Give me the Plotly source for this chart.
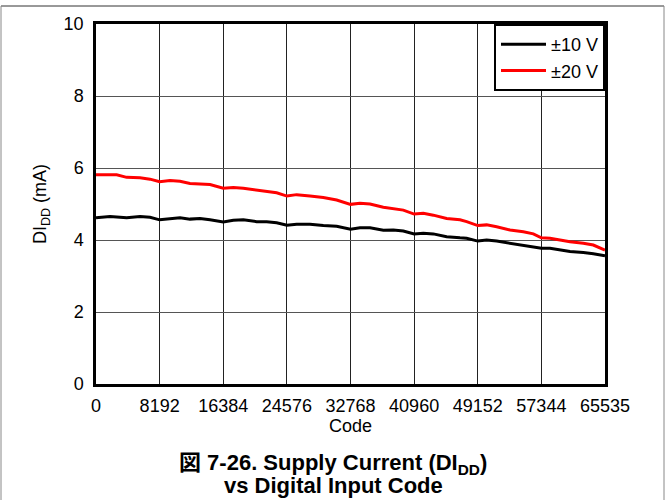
import plotly.graph_objects as go

# ---- data ----
codes = [0, 1802, 2661, 3948, 5665, 6952, 8192, 9527, 10815, 12102, 13390, 14678,
         16384, 17681, 18969, 20686, 21973, 23261, 24576, 25836, 27553, 29269, 30986,
         32768, 33990, 35278, 36994, 38282, 39570, 40960, 42144, 43431, 45148, 46865,
         47723, 49152, 50299, 51587, 53303, 55019, 56307, 57344, 58453, 59740, 61028,
         62745, 64033, 65535]

idd_10v = [4.62, 4.65, 4.64, 4.62, 4.65, 4.63, 4.56, 4.60, 4.62, 4.58, 4.60, 4.56,
           4.50, 4.55, 4.56, 4.51, 4.51, 4.48, 4.41, 4.44, 4.44, 4.40, 4.38,
           4.30, 4.34, 4.34, 4.27, 4.28, 4.25, 4.17, 4.19, 4.17, 4.09, 4.06,
           4.05, 3.97, 4.00, 3.97, 3.91, 3.86, 3.81, 3.77, 3.77, 3.72, 3.68,
           3.65, 3.62, 3.56]

idd_20v = [5.81, 5.80, 5.81, 5.74, 5.73, 5.69, 5.62, 5.65, 5.63, 5.57, 5.56, 5.54,
           5.44, 5.46, 5.44, 5.39, 5.35, 5.31, 5.22, 5.26, 5.22, 5.18, 5.11,
           4.99, 5.02, 5.00, 4.91, 4.88, 4.83, 4.72, 4.74, 4.69, 4.60, 4.56,
           4.51, 4.40, 4.42, 4.37, 4.28, 4.23, 4.17, 4.06, 4.05, 4.00, 3.95,
           3.91, 3.86, 3.72]

x_ticks = [0, 8192, 16384, 24576, 32768, 40960, 49152, 57344, 65535]
x_tick_labels = ["0", "8192", "16384", "24576", "32768", "40960", "49152", "57344", "65535"]
y_ticks = [0, 2, 4, 6, 8, 10]

series_names = ["±10 V", "±20 V"]
x_title = "Code"
y_title = "DI<sub>DD</sub> (mA)"
caption_line1 = "図 7-26. Supply Current (DI<sub>DD</sub>)"
caption_line2 = "vs Digital Input Code"

FONT = "Liberation Sans, Arial, Noto Sans CJK JP, sans-serif"

fig = go.Figure()
fig.add_trace(go.Scatter(x=codes, y=idd_10v, mode="lines", name=series_names[0],
                         line=dict(color="#000000", width=3)))
fig.add_trace(go.Scatter(x=codes, y=idd_20v, mode="lines", name=series_names[1],
                         line=dict(color="#ff0000", width=3)))

L, R, T, B = 96, 61, 24, 116
W, H = 666, 500
pw, ph = W - L - R, H - T - B

def px_x(px):
    return (px - L) / pw

def px_y(py):
    return (H - B - py) / ph

fig.update_layout(
    width=W, height=H,
    margin=dict(l=L, r=R, t=T, b=B, pad=0),
    paper_bgcolor="white", plot_bgcolor="white",
    font=dict(family=FONT, size=18, color="black"),
    showlegend=True,
    legend=dict(x=1, y=1, xanchor="right", yanchor="top",
                bgcolor="white", bordercolor="black", borderwidth=2,
                font=dict(size=18), tracegroupgap=0, itemwidth=45),
    xaxis=dict(range=[0, 65535], tickvals=x_ticks, ticktext=x_tick_labels,
               showgrid=True, gridcolor="#222222", gridwidth=1,
               showline=True, linecolor="black", linewidth=2.5, mirror=True,
               ticks="outside", ticklen=4, tickcolor="rgba(0,0,0,0)",
               zeroline=False),
    yaxis=dict(range=[0, 10], tickvals=y_ticks,
               showgrid=True, gridcolor="#555555", gridwidth=1,
               showline=True, linecolor="black", linewidth=2.5, mirror=True,
               ticks="outside", ticklen=6, tickcolor="rgba(0,0,0,0)",
               zeroline=False,
               title=dict(text=y_title, standoff=13, font=dict(size=18))),
)

# page frame
fx0, fx1 = px_x(1), px_x(664)
fy_top, fy_bot = px_y(6), px_y(505)
fig.add_shape(type="line", xref="paper", yref="paper", x0=fx0, x1=fx1, y0=fy_top, y1=fy_top,
              line=dict(color="#333333", width=1))
fig.add_shape(type="line", xref="paper", yref="paper", x0=fx0, x1=fx0, y0=fy_top, y1=fy_bot,
              line=dict(color="#888888", width=1))
fig.add_shape(type="line", xref="paper", yref="paper", x0=fx1, x1=fx1, y0=fy_top, y1=fy_bot,
              line=dict(color="#888888", width=1))

# x-axis title
fig.add_annotation(xref="paper", yref="paper", x=0.5, y=px_y(426),
                   xanchor="center", yanchor="middle", showarrow=False,
                   text=x_title, font=dict(size=18, family=FONT))

# caption
fig.add_annotation(xref="paper", yref="paper", x=px_x(333), y=px_y(464),
                   xanchor="center", yanchor="middle", showarrow=False,
                   text="<b>" + caption_line1 + "</b>", font=dict(size=22, family=FONT))
fig.add_annotation(xref="paper", yref="paper", x=px_x(333), y=px_y(486),
                   xanchor="center", yanchor="middle", showarrow=False,
                   text="<b>" + caption_line2 + "</b>", font=dict(size=22, family=FONT))

fig.write_html("out.html", config={"displayModeBar": False},
               post_script="document.body.style.margin='0';document.body.style.overflow='hidden';")
